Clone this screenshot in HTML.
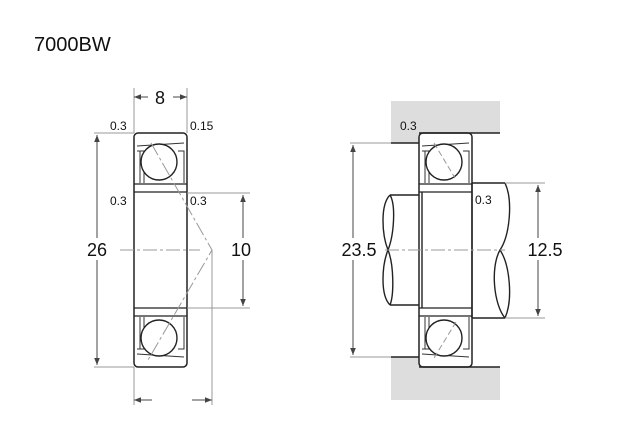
<!DOCTYPE html>
<html><head><meta charset="utf-8"><style>
html,body{margin:0;padding:0;background:#fff;}
svg{display:block;font-family:"Liberation Sans",sans-serif;}
</style></head><body>
<svg width="640" height="440" viewBox="0 0 640 440" xmlns="http://www.w3.org/2000/svg">
<defs>
<marker id="a" viewBox="0 0 10 10" refX="10" refY="5" markerWidth="7" markerHeight="7" orient="auto-start-reverse"><path d="M0,1 L10,5 L0,9 z" fill="#444"/></marker>
<g id="brg">
  <rect x="0" y="0" width="53" height="234" rx="4" fill="none" stroke="#222" stroke-width="1.5"/>
  <line x1="0" y1="51" x2="53" y2="51" stroke="#222" stroke-width="1.2"/>
  <line x1="0" y1="59" x2="53" y2="59" stroke="#222" stroke-width="1.2"/>
  <line x1="0" y1="175" x2="53" y2="175" stroke="#222" stroke-width="1.2"/>
  <line x1="0" y1="183" x2="53" y2="183" stroke="#222" stroke-width="1.2"/>
  <path d="M3,13 L50,10 M3,18 L10,18 L10,50 M44,18 L50,18 L50,50 M6,18 L6,50" stroke="#333" fill="none" stroke-width="1"/>
  <path d="M3,221 L50,224 M3,216 L10,216 L10,184 M44,216 L50,216 L50,184 M6,216 L6,184" stroke="#333" fill="none" stroke-width="1"/>
  <circle cx="25" cy="29" r="18" fill="#fff" stroke="#222" stroke-width="1.4"/>
  <circle cx="25" cy="205" r="18" fill="#fff" stroke="#222" stroke-width="1.4"/>
</g>
</defs>
<text x="34" y="51" font-size="20" fill="#111">7000BW</text>

<!-- left bearing -->
<use href="#brg" x="134" y="133"/>
<g stroke="#999" stroke-width="1" fill="none">
  <line x1="134" y1="133" x2="94" y2="133"/><line x1="134" y1="367" x2="94" y2="367"/>
  <line x1="187" y1="193" x2="250" y2="193"/><line x1="187" y1="308" x2="250" y2="308"/>
  <line x1="134" y1="88" x2="134" y2="133"/><line x1="187" y1="88" x2="187" y2="133"/>
  <line x1="134" y1="367" x2="134" y2="405"/><line x1="212" y1="250" x2="212" y2="405"/>
  <path d="M151,143 L212,250 L148,360" stroke-dasharray="14,3,3,3"/>
  <line x1="120" y1="250" x2="200" y2="250" stroke-dasharray="14,3,3,3"/>
</g>
<g stroke="#444" stroke-width="1" fill="none">
  <line x1="97" y1="135" x2="97" y2="365" marker-start="url(#a)" marker-end="url(#a)"/>
  <line x1="243" y1="195" x2="243" y2="306" marker-start="url(#a)" marker-end="url(#a)"/>
  <line x1="134" y1="97" x2="148" y2="97" marker-start="url(#a)"/>
  <line x1="173" y1="97" x2="187" y2="97" marker-end="url(#a)"/>
  <line x1="134" y1="400" x2="152" y2="400" marker-start="url(#a)"/>
  <line x1="192" y1="400" x2="212" y2="400" marker-end="url(#a)"/>
</g>

<!-- right assembly -->
<rect x="391" y="101" width="109" height="32" fill="#ddd"/>
<rect x="391" y="133" width="28" height="10" fill="#ddd"/>
<rect x="391" y="357" width="28" height="10" fill="#ddd"/>
<rect x="391" y="367" width="109" height="33" fill="#ddd"/>
<g stroke="#222" stroke-width="1.4" fill="none">
  <line x1="391" y1="143" x2="419" y2="143"/><line x1="419" y1="133" x2="500" y2="133"/>
  <line x1="391" y1="357" x2="419" y2="357"/><line x1="419" y1="367" x2="500" y2="367"/>
  <line x1="390" y1="195" x2="422" y2="195"/><line x1="390" y1="305" x2="422" y2="305"/>
  <path d="M390,195 C380,205 382,235 388,250 C394,265 394,295 390,305"/>
  <path d="M390,195 C396,205 394,235 388,250 C382,265 380,295 390,305"/>
  <line x1="472" y1="183" x2="505" y2="183"/><line x1="472" y1="318" x2="505" y2="318"/>
  <path d="M505,183 C513,200 510,235 500,250 C490,268 494,305 505,318"/>
  <path d="M505,318 C513,300 510,265 500,250"/>
</g>
<rect x="419" y="192" width="53" height="116" fill="#fff"/>
<line x1="422" y1="192" x2="422" y2="308" stroke="#222" stroke-width="1.4"/>
<line x1="472" y1="183" x2="472" y2="318" stroke="#222" stroke-width="1.4"/>
<use href="#brg" x="419" y="133"/>
<g stroke="#999" stroke-width="1" fill="none">
  <line x1="391" y1="143" x2="350" y2="143"/><line x1="391" y1="357" x2="350" y2="357"/>
  <line x1="505" y1="183" x2="545" y2="183"/><line x1="505" y1="318" x2="545" y2="318"/>
  <line x1="385" y1="250" x2="505" y2="250" stroke-dasharray="14,3,3,3"/>
  <line x1="434" y1="143" x2="455" y2="178" stroke-dasharray="6,3"/>
  <line x1="456" y1="322" x2="434" y2="358" stroke-dasharray="6,3"/>
</g>
<g stroke="#444" stroke-width="1" fill="none">
  <line x1="353" y1="145" x2="353" y2="355" marker-start="url(#a)" marker-end="url(#a)"/>
  <line x1="538" y1="185" x2="538" y2="316" marker-start="url(#a)" marker-end="url(#a)"/>
</g>

<g fill="#fff">
  <rect x="84" y="238" width="26" height="22"/>
  <rect x="228" y="238" width="28" height="22"/>
  <rect x="340" y="238" width="38" height="22"/>
  <rect x="525" y="238" width="40" height="22"/>
</g>
<g font-size="18" fill="#111" text-anchor="middle">
  <text x="160" y="104">8</text>
  <text x="97" y="256">26</text>
  <text x="241" y="256">10</text>
  <text x="359" y="256">23.5</text>
  <text x="545" y="256">12.5</text>
</g>
<g font-size="12" fill="#111">
  <text x="110" y="130">0.3</text><text x="190" y="130">0.15</text>
  <text x="110" y="205">0.3</text><text x="190" y="205">0.3</text>
  <text x="400" y="130">0.3</text><text x="475" y="204">0.3</text>
</g>
</svg>
</body></html>
